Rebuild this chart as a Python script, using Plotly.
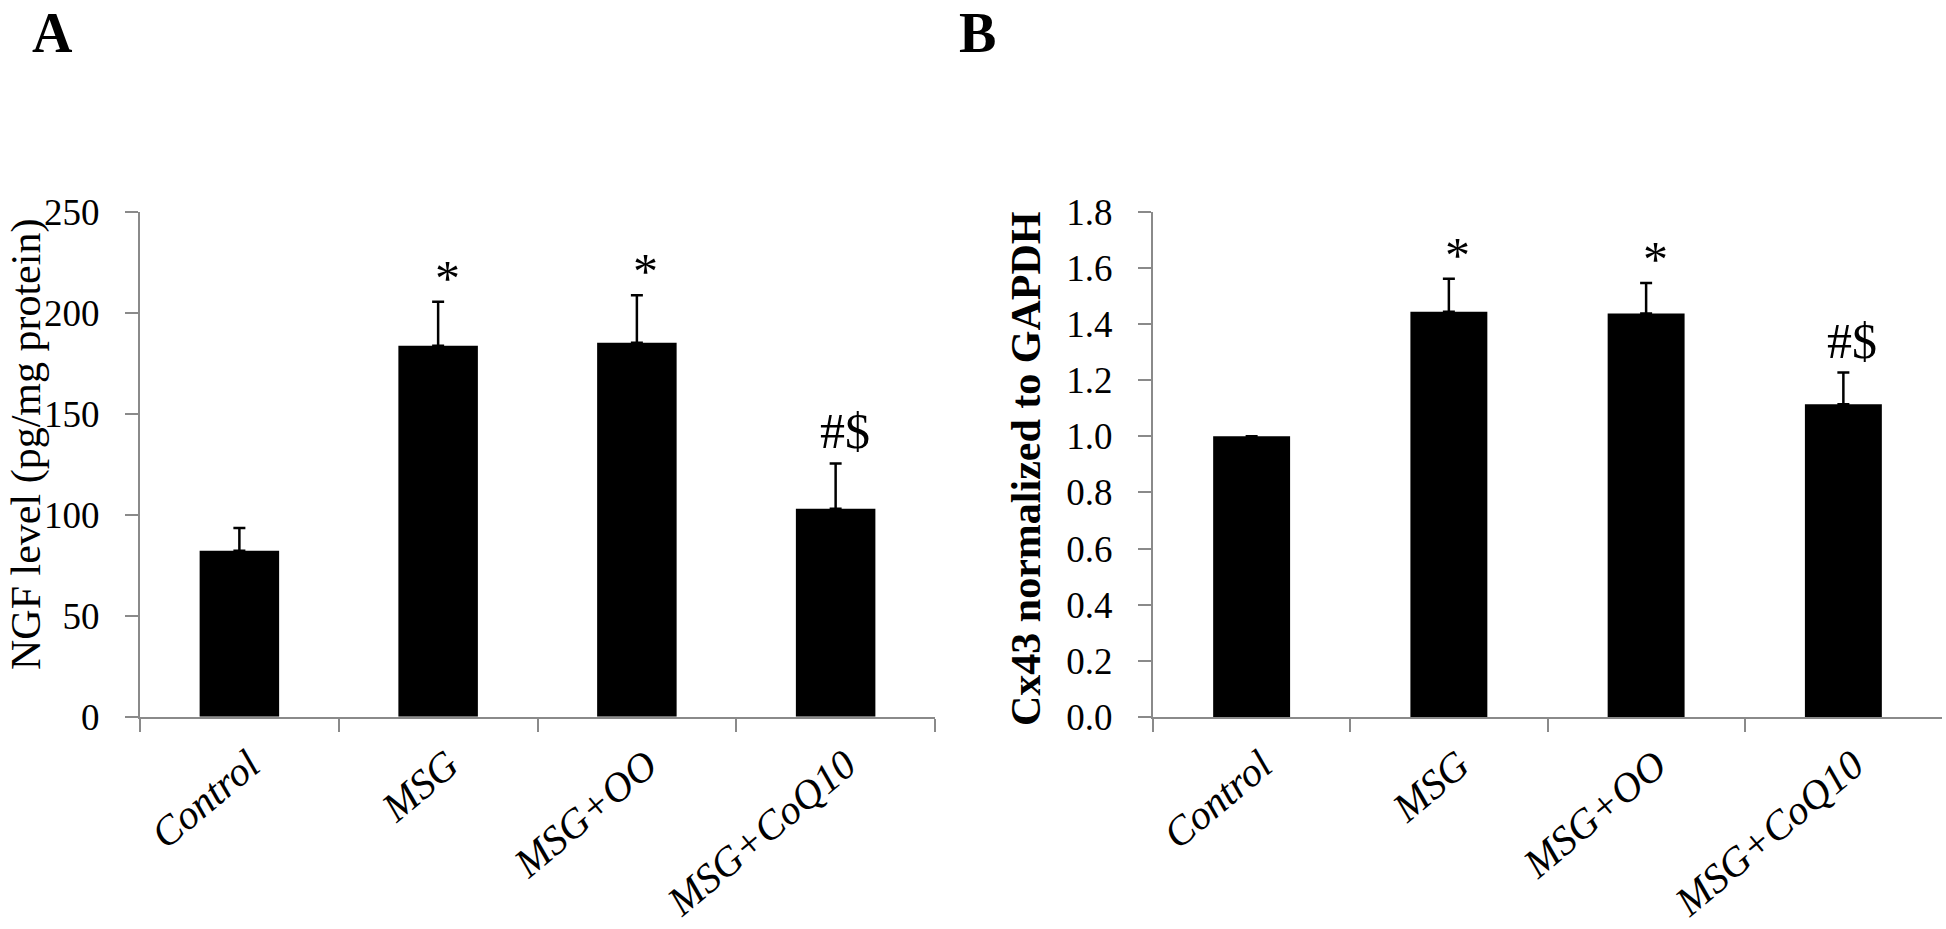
import plotly.graph_objects as go

# ---------------- data ----------------
categories = ["Control", "MSG", "MSG+OO", "MSG+CoQ10"]

ngf_mean = [82.2, 183.7, 185.1, 102.9]
ngf_sd = [11.2, 21.7, 23.6, 22.5]
ngf_marks = ["", "*", "*", "#$"]

cx43_mean = [1.00, 1.444, 1.437, 1.114]
cx43_sd = [0.0, 0.117, 0.109, 0.113]
cx43_marks = ["", "*", "*", "#$"]

ngf_ticks = [0, 50, 100, 150, 200, 250]
cx43_ticks = [0.0, 0.2, 0.4, 0.6, 0.8, 1.0, 1.2, 1.4, 1.6, 1.8]
cx43_ticktext = [f"{v:.1f}" for v in cx43_ticks]

# ---------------- layout constants ----------------
W, H = 1946, 929
SERIF = "Liberation Serif"
AXIS_GRAY = "#8a8a8a"


def px_x(p):
    """page pixel x -> paper fraction"""
    return p / W


def px_y(p):
    """page pixel y (from top) -> paper fraction"""
    return (H - p) / H


fig = go.Figure()

err_style = dict(type="data", symmetric=False, color="black", thickness=2.5, width=6)

fig.add_trace(go.Bar(
    x=categories, y=ngf_mean, xaxis="x", yaxis="y",
    marker=dict(color="black", line=dict(width=0)), width=0.4,
    error_y=dict(array=ngf_sd, arrayminus=[0] * len(ngf_sd), **err_style),
))
fig.add_trace(go.Bar(
    x=categories, y=cx43_mean, xaxis="x2", yaxis="y2",
    marker=dict(color="black", line=dict(width=0)), width=0.39,
    error_y=dict(array=cx43_sd, arrayminus=[0] * len(cx43_sd), **err_style),
))

xcommon = dict(
    type="category", range=[-0.5, 3.5], tickson="boundaries",
    ticks="outside", ticklen=13, tickwidth=2, tickcolor=AXIS_GRAY,
    showline=True, linecolor=AXIS_GRAY, linewidth=2, showgrid=False,
    zeroline=False, tickangle=-40, automargin=False,
    ticklabelstandoff=6, ticklabelshift=10,
    tickfont=dict(family=SERIF, size=41, color="black", style="italic"),
    fixedrange=True,
)
ycommon = dict(
    ticks="outside", ticklen=13, tickwidth=2, tickcolor=AXIS_GRAY,
    showline=True, linecolor=AXIS_GRAY, linewidth=2, showgrid=False,
    zeroline=False, ticklabelstandoff=18, fixedrange=True, automargin=False,
)

fig.update_layout(
    width=W, height=H,
    margin=dict(l=0, r=0, t=0, b=0, autoexpand=False),
    paper_bgcolor="white", plot_bgcolor="white",
    showlegend=False, bargap=0.6,
    xaxis=dict(domain=[px_x(140), px_x(935)], anchor="y", **xcommon),
    yaxis=dict(domain=[px_y(716.7), px_y(211.7)], anchor="x",
               range=[0, 250], tickvals=ngf_ticks,
               tickfont=dict(family=SERIF, size=37, color="black"), **ycommon),
    xaxis2=dict(domain=[px_x(1153), px_x(1942)], anchor="y2", **xcommon),
    yaxis2=dict(domain=[px_y(717), px_y(211.7)], anchor="x2",
                range=[0, 1.8], tickvals=cx43_ticks, ticktext=cx43_ticktext,
                tickfont=dict(family=SERIF, size=37, color="black"), **ycommon),
)

annotations = []

# significance marks above error bars
for xa, ya, means, sds, marks in [("x", "y", ngf_mean, ngf_sd, ngf_marks),
                                   ("x2", "y2", cx43_mean, cx43_sd, cx43_marks)]:
    for cat, m, s, t in zip(categories, means, sds, marks):
        if not t:
            continue
        annotations.append(dict(
            x=cat, y=m + s, xref=xa, yref=ya, text=t, showarrow=False,
            xanchor="center", yanchor="middle",
            xshift=9, yshift=24 if t == "*" else 32,
            font=dict(family=SERIF, size=50, color="black"),
        ))

# axis titles
annotations.append(dict(
    x=px_x(26), y=px_y(445), xref="paper", yref="paper",
    text="NGF level (pg/mg protein)", textangle=-90, showarrow=False,
    xanchor="center", yanchor="middle",
    font=dict(family=SERIF, size=42, color="black"),
))
annotations.append(dict(
    x=px_x(1026), y=px_y(469), xref="paper", yref="paper",
    text="<b>Cx43 normalized to GAPDH</b>", textangle=-90, showarrow=False,
    xanchor="center", yanchor="middle",
    font=dict(family=SERIF, size=42, color="black"),
))

# panel letters
for letter, cx in [("A", 52), ("B", 977)]:
    annotations.append(dict(
        x=px_x(cx), y=1, xref="paper", yref="paper",
        text=f"<b>{letter}</b>", showarrow=False,
        xanchor="center", yanchor="top",
        font=dict(family=SERIF, size=56, color="black"),
    ))

fig.update_layout(annotations=annotations)

# remove the default page margin so the figure fills the window exactly
fig.write_html(
    "out.html",
    config={"displayModeBar": False, "staticPlot": True},
    post_script="document.body.style.margin='0';",
)
